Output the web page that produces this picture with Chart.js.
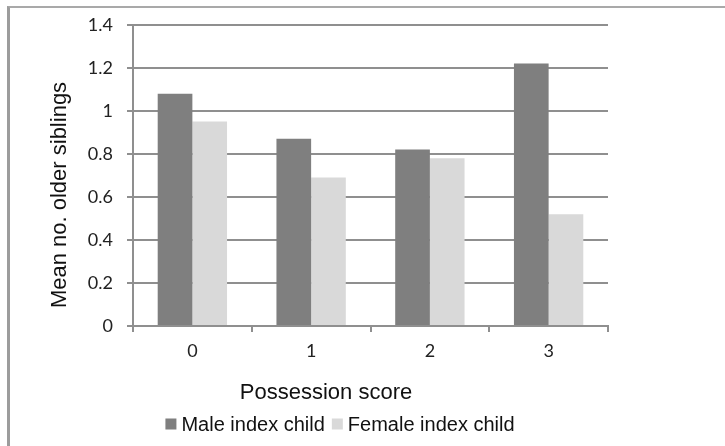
<!DOCTYPE html>
<html>
<head>
<meta charset="utf-8">
<script src="https://cdn.jsdelivr.net/npm/chart.js@4.4.1/dist/chart.umd.min.js"></script>
<style>
    html, body { margin: 0; padding: 0; background: #fff; overflow: hidden; }
    #frame { position: absolute; left: 7px; top: 6px; width: 760px; height: 480px;
             border-left: 3px solid #9c9c9c; border-top: 2px solid #a9a9a9; }
    #wrap { position: absolute; left: 0; top: 0; width: 725px; height: 446px; }
</style>
</head>
<body>
<div id="frame"></div>
<div id="wrap"><canvas id="siblingsChart" width="725" height="446"></canvas></div>
<script>
// --- data ---
const scoreLabels = ['0', '1', '2', '3'];
const maleValues = [1.08, 0.87, 0.82, 1.22];
const femaleValues = [0.95, 0.69, 0.78, 0.52];
const yTickLabels = ['0', '0.2', '0.4', '0.6', '0.8', '1', '1.2', '1.4'];
const seriesNames = ['Male index child', 'Female index child'];
const xTitle = 'Possession score';
const yTitle = 'Mean no. older siblings';

const lineGrey = '#8f8f8f';
const tickFont = { family: 'Lato, "Open Sans", sans-serif', size: 18 };

// Excel-style titles + legend, placed where the original had them
const excelText = {
    id: 'excelText',
    afterDraw(chart) {
        const ctx = chart.ctx;
        ctx.save();
        ctx.fillStyle = '#111';
        ctx.textAlign = 'center';
        ctx.textBaseline = 'middle';
        ctx.font = '22px "Liberation Sans", Arial, sans-serif';
        ctx.fillText(xTitle, 326, 393);

        ctx.save();
        ctx.translate(60, 195);
        ctx.rotate(-Math.PI / 2);
        ctx.fillText(yTitle, 0, 0);
        ctx.restore();

        // legend
        ctx.font = '20px "Liberation Sans", Arial, sans-serif';
        ctx.textAlign = 'left';
        const box = 11, gap = 5, itemGap = 7;
        const widths = chart.data.datasets.map(d => box + gap + ctx.measureText(d.label).width);
        const total = widths.reduce((a, b) => a + b, 0) + itemGap * (widths.length - 1);
        let x = 340 - total / 2;
        const y = 424;
        chart.data.datasets.forEach((d, i) => {
            ctx.fillStyle = d.backgroundColor;
            ctx.fillRect(x, y - box / 2, box, box);
            ctx.fillStyle = '#111';
            ctx.fillText(d.label, x + box + gap, y + 1);
            x += widths[i] + itemGap;
        });
        ctx.restore();
    }
};

new Chart(document.getElementById('siblingsChart').getContext('2d'), {
    type: 'bar',
    data: {
        labels: scoreLabels,
        datasets: [
            { label: seriesNames[0], data: maleValues, backgroundColor: '#7f7f7f' },
            { label: seriesNames[1], data: femaleValues, backgroundColor: '#d9d9d9' }
        ]
    },
    options: {
        responsive: false,
        animation: false,
        layout: { padding: { left: 0, top: 23, right: 117, bottom: 0 } },
        datasets: { bar: { categoryPercentage: 0.584, barPercentage: 1 } },
        plugins: { legend: { display: false }, tooltip: { enabled: false } },
        scales: {
            x: {
                afterFit(scale) { scale.height = 120; },
                grid: { offset: true, drawOnChartArea: false, drawTicks: true, tickLength: 6, color: lineGrey, lineWidth: 2 },
                border: { color: lineGrey, width: 2 },
                ticks: { font: tickFont, color: '#222', padding: 8 }
            },
            y: {
                min: 0,
                max: 1.4,
                afterFit(scale) { scale.width = 133; },
                grid: { color: lineGrey, lineWidth: 2, tickLength: 6 },
                border: { color: lineGrey, width: 2 },
                ticks: {
                    stepSize: 0.2,
                    font: tickFont,
                    color: '#222',
                    padding: 14,
                    callback: (v, i) => yTickLabels[i]
                }
            }
        }
    },
    plugins: [excelText]
});
</script>
</body>
</html>
